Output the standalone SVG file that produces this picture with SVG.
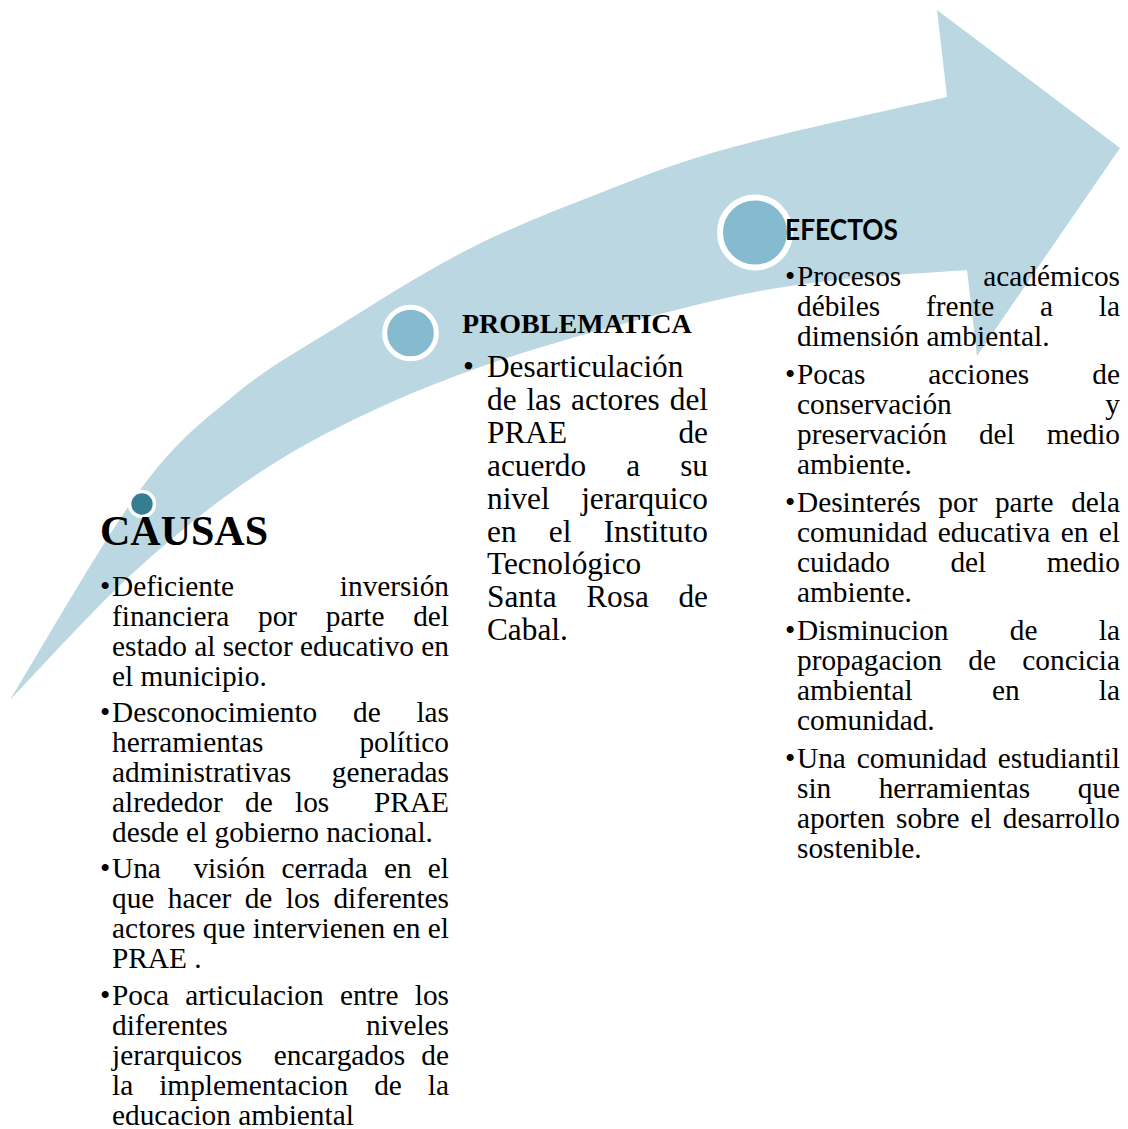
<svg xmlns="http://www.w3.org/2000/svg" width="1128" height="1129" viewBox="0 0 1128 1129">
<style>
  .band { fill: #BBD8E2; }
  .dot { fill: #86BBCF; stroke: #FFFFFF; }
  .t { font-family: "Liberation Serif", "Times New Roman", serif; font-size: 29.33px; fill: #000; }
  .p { font-family: "Liberation Serif", "Times New Roman", serif; font-size: 31.3px; fill: #000; }
  .hb { font-family: "Liberation Serif", "Times New Roman", serif; font-weight: bold; fill: #000; }
  .hs { font-family: Lato, "Liberation Sans", sans-serif; font-weight: bold; fill: #000; }
  .e { text-anchor: end; }
</style>
<rect width="1128" height="1129" fill="#FFFFFF"/>
<g id="arrow">
  <path class="band" d="M10,700 C31.7,665 102.2,541.2 140,490 C177.8,438.8 204.2,420.2 237,393 C269.8,365.8 298.7,350.8 337,327 C375.3,303.2 423.2,272.3 467,250 C510.8,227.7 555.7,210.2 600,193 C644.3,175.8 675.2,163 733,147 C790.8,131 911.3,105.3 947,97 L937,10 L1120,148 L977,356 L967,270 C942.5,272 864.5,276.3 820,282 C775.5,287.7 751.7,291.5 700,304 C648.3,316.5 565,339 510,357 C455,375 412.8,392 370,412 C327.2,432 292.5,450.2 253,477 C213.5,503.8 173.5,535.8 133,573 C92.5,610.2 30.5,678.8 10,700 Z"/>
</g>
<g id="connectors"></g>
<g id="node-causas">
  <circle cx="142" cy="504" r="12.5" fill="#357E91" stroke="#FFFFFF" stroke-width="3.5"/>
  <text class="hb" x="100" y="545" font-size="42">CAUSAS</text>
  <text class="t" y="596"><tspan x="100">•</tspan><tspan x="112">Deficiente</tspan><tspan class="e" x="449">inversión</tspan></text>
  <text class="t" y="626"><tspan x="112">financiera</tspan><tspan x="258">por</tspan><tspan x="325.8">parte</tspan><tspan class="e" x="449">del</tspan></text>
  <text class="t" x="112" y="656" textLength="337" lengthAdjust="spacing">estado al sector educativo en</text>
  <text class="t" x="112" y="686">el municipio.</text>
  <text class="t" y="722"><tspan x="100">•</tspan><tspan x="112">Desconocimiento</tspan><tspan x="353">de</tspan><tspan class="e" x="449">las</tspan></text>
  <text class="t" y="752"><tspan x="112">herramientas</tspan><tspan class="e" x="449">político</tspan></text>
  <text class="t" y="782"><tspan x="112">administrativas</tspan><tspan class="e" x="449">generadas</tspan></text>
  <text class="t" y="812"><tspan x="112">alrededor</tspan><tspan x="245">de</tspan><tspan x="295">los</tspan><tspan class="e" x="449">PRAE</tspan></text>
  <text class="t" x="112" y="842">desde el gobierno nacional.</text>
  <text class="t" y="878"><tspan x="100">•</tspan><tspan x="112">Una</tspan><tspan x="193.4">visión</tspan><tspan x="281.4">cerrada</tspan><tspan x="383.9">en</tspan><tspan class="e" x="449">el</tspan></text>
  <text class="t" y="908"><tspan x="112">que</tspan><tspan x="167.8">hacer</tspan><tspan x="244.7">de</tspan><tspan x="285.8">los</tspan><tspan class="e" x="449">diferentes</tspan></text>
  <text class="t" x="112" y="938" textLength="337" lengthAdjust="spacing">actores que intervienen en el</text>
  <text class="t" x="112" y="968">PRAE .</text>
  <text class="t" y="1004.5"><tspan x="100">•</tspan><tspan x="112">Poca</tspan><tspan x="185.2">articulacion</tspan><tspan x="339.9">entre</tspan><tspan class="e" x="449">los</tspan></text>
  <text class="t" y="1034.5"><tspan x="112">diferentes</tspan><tspan class="e" x="449">niveles</tspan></text>
  <text class="t" y="1064.5"><tspan x="112">jerarquicos</tspan><tspan x="273.7">encargados</tspan><tspan class="e" x="449">de</tspan></text>
  <text class="t" y="1094.5"><tspan x="112">la</tspan><tspan x="159.2">implementacion</tspan><tspan x="374.2">de</tspan><tspan class="e" x="449">la</tspan></text>
  <text class="t" x="112" y="1124.5">educacion ambiental</text>
</g>
<g id="node-problematica">
  <circle class="dot" cx="410.5" cy="333" r="25.8" stroke-width="5"/>
  <text class="hb" x="462" y="333" font-size="28">PROBLEMATICA</text>
  <text class="p" y="377"><tspan x="463">•</tspan><tspan x="487">Desarticulación</tspan></text>
  <text class="p" y="409.9"><tspan x="487">de</tspan><tspan x="526.4">las</tspan><tspan x="571.1">actores</tspan><tspan class="e" x="708">del</tspan></text>
  <text class="p" y="442.8"><tspan x="487">PRAE</tspan><tspan class="e" x="708">de</tspan></text>
  <text class="p" y="475.7"><tspan x="487">acuerdo</tspan><tspan x="626.2">a</tspan><tspan class="e" x="708">su</tspan></text>
  <text class="p" y="508.6"><tspan x="487">nivel</tspan><tspan class="e" x="708">jerarquico</tspan></text>
  <text class="p" y="541.5"><tspan x="487">en</tspan><tspan x="548.8">el</tspan><tspan class="e" x="708">Instituto</tspan></text>
  <text class="p" x="487" y="574.4">Tecnológico</text>
  <text class="p" y="607.3"><tspan x="487">Santa</tspan><tspan x="586.2">Rosa</tspan><tspan class="e" x="708">de</tspan></text>
  <text class="p" x="487" y="640.2">Cabal.</text>
</g>
<g id="node-efectos">
  <circle class="dot" cx="755" cy="232.5" r="35" stroke-width="6"/>
  <text class="hs" x="785" y="240" font-size="28" textLength="113" lengthAdjust="spacingAndGlyphs">EFECTOS</text>
  <text class="t" y="286"><tspan x="785">•</tspan><tspan x="797">Procesos</tspan><tspan class="e" x="1120">académicos</tspan></text>
  <text class="t" y="316"><tspan x="797">débiles</tspan><tspan x="925.9">frente</tspan><tspan x="1040.1">a</tspan><tspan class="e" x="1120">la</tspan></text>
  <text class="t" x="797" y="346">dimensión ambiental.</text>
  <text class="t" y="383.5"><tspan x="785">•</tspan><tspan x="797">Pocas</tspan><tspan x="928.3">acciones</tspan><tspan class="e" x="1120">de</tspan></text>
  <text class="t" y="413.5"><tspan x="797">conservación</tspan><tspan class="e" x="1120">y</tspan></text>
  <text class="t" y="443.5"><tspan x="797">preservación</tspan><tspan x="978.9">del</tspan><tspan class="e" x="1120">medio</tspan></text>
  <text class="t" x="797" y="473.5">ambiente.</text>
  <text class="t" y="511.5"><tspan x="785">•</tspan><tspan x="797">Desinterés</tspan><tspan x="938.3">por</tspan><tspan x="994.9">parte</tspan><tspan class="e" x="1120">dela</tspan></text>
  <text class="t" y="541.5"><tspan x="797">comunidad</tspan><tspan x="937.8">educativa</tspan><tspan x="1060.7">en</tspan><tspan class="e" x="1120">el</tspan></text>
  <text class="t" y="571.5"><tspan x="797">cuidado</tspan><tspan x="950.4">del</tspan><tspan class="e" x="1120">medio</tspan></text>
  <text class="t" x="797" y="601.5">ambiente.</text>
  <text class="t" y="640"><tspan x="785">•</tspan><tspan x="797">Disminucion</tspan><tspan x="1009.8">de</tspan><tspan class="e" x="1120">la</tspan></text>
  <text class="t" y="670"><tspan x="797">propagacion</tspan><tspan x="968.3">de</tspan><tspan class="e" x="1120">concicia</tspan></text>
  <text class="t" y="700"><tspan x="797">ambiental</tspan><tspan x="991.9">en</tspan><tspan class="e" x="1120">la</tspan></text>
  <text class="t" x="797" y="730">comunidad.</text>
  <text class="t" y="768"><tspan x="785">•</tspan><tspan x="797">Una</tspan><tspan x="856.7">comunidad</tspan><tspan class="e" x="1120">estudiantil</tspan></text>
  <text class="t" y="798"><tspan x="797">sin</tspan><tspan x="878.7">herramientas</tspan><tspan class="e" x="1120">que</tspan></text>
  <text class="t" y="828"><tspan x="797">aporten</tspan><tspan x="896">sobre</tspan><tspan x="970.5">el</tspan><tspan class="e" x="1120">desarrollo</tspan></text>
  <text class="t" x="797" y="858">sostenible.</text>
</g>
</svg>
